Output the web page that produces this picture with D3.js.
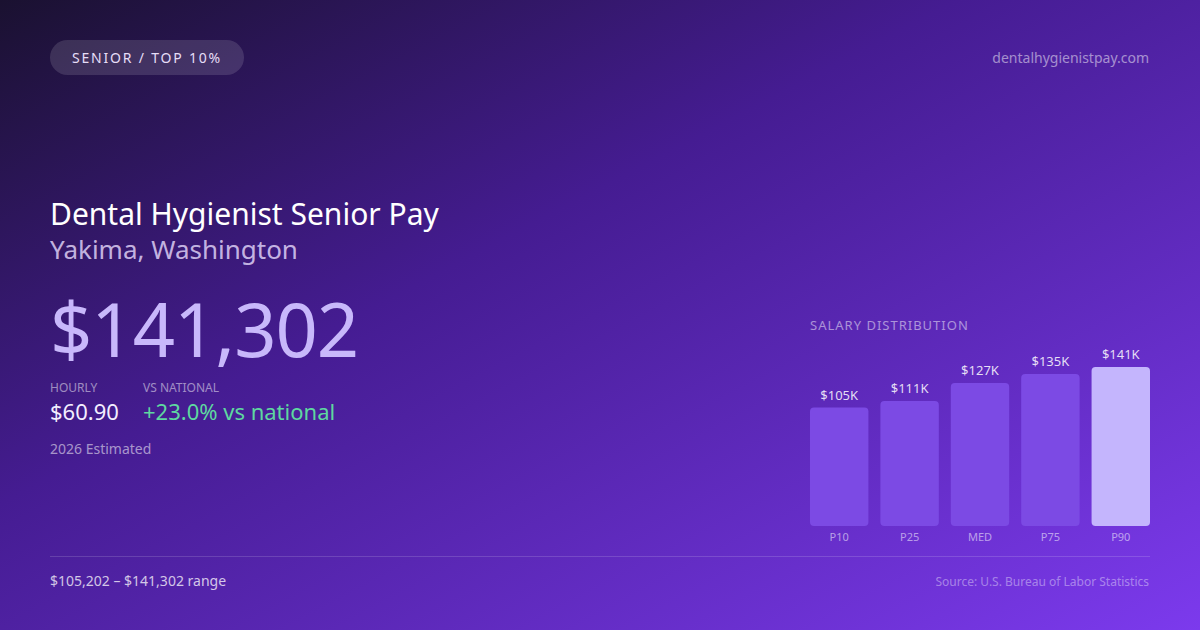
<!DOCTYPE html>
<html>
<head>
<meta charset="utf-8">
<script src="https://cdn.jsdelivr.net/npm/d3@7"></script>
<style>
  html, body { margin: 0; padding: 0; background: #2a1458; }
  svg { display: block; font-family: 'Noto Sans', 'Open Sans', sans-serif; }
</style>
</head>
<body>
<div id="chart"></div>
<script>
// chart data
const percentiles = ['P10', 'P25', 'MED', 'P75', 'P90']
const salaries = [105202, 111000, 127000, 135000, 141302]
const salaryLabels = ['$105K', '$111K', '$127K', '$135K', '$141K']

const badgeText = 'SENIOR / TOP 10%'
const siteName = 'dentalhygienistpay.com'
const title = 'Dental Hygienist Senior Pay'
const subtitle = 'Yakima, Washington'
const headline = '$141,302'
const hourly = '$60.90'
const vsNational = '+23.0% vs national'
const estimate = '2026 Estimated'
const rangeText = '$105,202 – $141,302 range'
const sourceText = 'Source: U.S. Bureau of Labor Statistics'

const W = 1200
const H = 630

const svg = d3.select('#chart').append('svg')
  .attr('width', W)
  .attr('height', H)
  .attr('viewBox', `0 0 ${W} ${H}`)

// background gradient
const defs = svg.append('defs')
const grad = defs.append('linearGradient')
  .attr('id', 'bg')
  .attr('x1', 0).attr('y1', 0)
  .attr('x2', 1).attr('y2', 1)
grad.append('stop').attr('offset', '0%').attr('stop-color', '#1a1130')
grad.append('stop').attr('offset', '40%').attr('stop-color', '#451c92')
grad.append('stop').attr('offset', '100%').attr('stop-color', '#7c3aed')

svg.append('rect').attr('width', W).attr('height', H).attr('fill', 'url(#bg)')

// badge
svg.append('rect')
  .attr('x', 50).attr('y', 40)
  .attr('width', 194).attr('height', 35)
  .attr('rx', 17.5)
  .attr('fill', 'rgba(255,255,255,0.13)')
svg.append('text')
  .attr('x', 147).attr('y', 63)
  .attr('text-anchor', 'middle')
  .attr('font-size', 14)
  .attr('letter-spacing', 1.8)
  .attr('fill', '#e6ddf7')
  .text(badgeText)

svg.append('text')
  .attr('x', 1149).attr('y', 63)
  .attr('text-anchor', 'end')
  .attr('font-size', 14)
  .attr('fill', 'rgba(255,255,255,0.5)')
  .text(siteName)

// headline block
svg.append('text')
  .attr('x', 50).attr('y', 225)
  .attr('font-size', 30)
  .attr('fill', '#ffffff')
  .text(title)
svg.append('text')
  .attr('x', 50).attr('y', 259)
  .attr('font-size', 26)
  .attr('fill', 'rgba(233,222,255,0.8)')
  .text(subtitle)
svg.append('text')
  .attr('x', 50).attr('y', 357)
  .attr('font-size', 74)
  .attr('letter-spacing', -1)
  .attr('fill', '#c8b8fb')
  .text(headline)

svg.append('text')
  .attr('x', 50).attr('y', 392)
  .attr('font-size', 12)
  .attr('fill', 'rgba(255,255,255,0.5)')
  .text('HOURLY')
svg.append('text')
  .attr('x', 143).attr('y', 392)
  .attr('font-size', 12)
  .attr('fill', 'rgba(255,255,255,0.5)')
  .text('VS NATIONAL')
svg.append('text')
  .attr('x', 50).attr('y', 420)
  .attr('font-size', 22)
  .attr('fill', '#f3eeff')
  .text(hourly)
svg.append('text')
  .attr('x', 143).attr('y', 420)
  .attr('font-size', 22)
  .attr('fill', '#5ed8a0')
  .text(vsNational)
svg.append('text')
  .attr('x', 50).attr('y', 454)
  .attr('font-size', 14)
  .attr('fill', 'rgba(255,255,255,0.55)')
  .text(estimate)

// salary distribution bars
const chartLeft = 810
const chartRight = 1150
const baseY = 526
const maxH = 159

svg.append('text')
  .attr('x', chartLeft).attr('y', 330)
  .attr('font-size', 13)
  .attr('letter-spacing', 1)
  .attr('fill', 'rgba(255,255,255,0.5)')
  .text('SALARY DISTRIBUTION')

const xScale = d3.scaleBand()
  .domain(percentiles)
  .range([chartLeft, chartRight])
  .paddingInner(0.17)
  .paddingOuter(0)

const yScale = d3.scaleLinear()
  .domain([0, d3.max(salaries)])
  .range([baseY, baseY - maxH])

const bars = svg.append('g').attr('class', 'bars')

bars.selectAll('rect')
  .data(percentiles)
  .join('rect')
  .attr('x', (d) => xScale(d))
  .attr('y', (d, i) => yScale(salaries[i]))
  .attr('width', xScale.bandwidth())
  .attr('height', (d, i) => baseY - yScale(salaries[i]))
  .attr('rx', 4)
  .attr('fill', (d, i) => (i === percentiles.length - 1 ? '#c4b5fd' : '#7c4ae4'))

bars.selectAll('.value')
  .data(percentiles)
  .join('text')
  .attr('class', 'value')
  .attr('x', (d) => xScale(d) + xScale.bandwidth() / 2)
  .attr('y', (d, i) => yScale(salaries[i]) - 8)
  .attr('text-anchor', 'middle')
  .attr('font-size', 13)
  .attr('fill', 'rgba(255,255,255,0.85)')
  .text((d, i) => salaryLabels[i])

// category axis, no line
const xAxis = svg.append('g')
  .attr('transform', `translate(0, ${baseY})`)
  .call(d3.axisBottom(xScale).tickSize(0).tickPadding(7))
xAxis.select('.domain').remove()
xAxis.selectAll('text')
  .attr('font-family', "'Noto Sans', sans-serif")
  .attr('font-size', 11)
  .attr('fill', 'rgba(255,255,255,0.55)')

// footer
svg.append('line')
  .attr('x1', 50).attr('x2', 1150)
  .attr('y1', 556.5).attr('y2', 556.5)
  .attr('stroke', 'rgba(255,255,255,0.15)')
  .attr('stroke-width', 1)

svg.append('text')
  .attr('x', 50).attr('y', 586)
  .attr('font-size', 14)
  .attr('fill', 'rgba(255,255,255,0.75)')
  .text(rangeText)
svg.append('text')
  .attr('x', 1149).attr('y', 586)
  .attr('text-anchor', 'end')
  .attr('font-size', 12)
  .attr('fill', 'rgba(255,255,255,0.4)')
  .text(sourceText)
</script>
</body>
</html>
